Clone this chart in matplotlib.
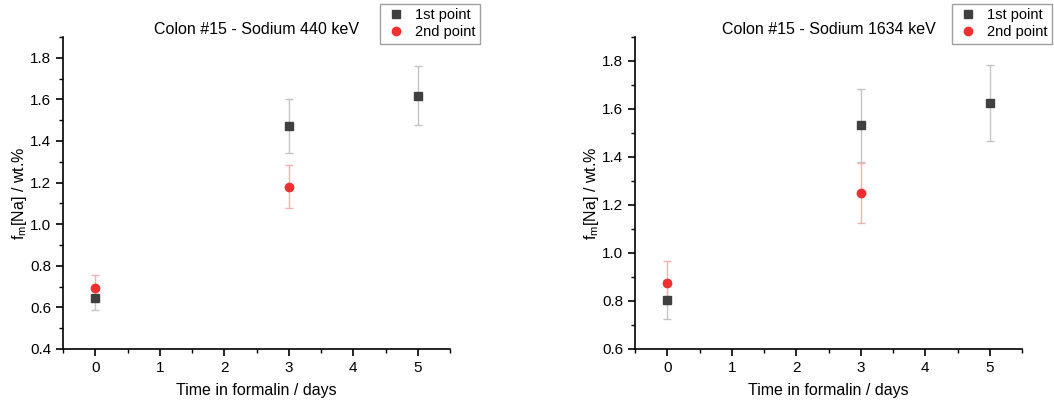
import matplotlib
matplotlib.use("Agg")
import matplotlib.pyplot as plt
from matplotlib.ticker import MultipleLocator

plt.rcParams['font.family'] = ['Liberation Sans', 'DejaVu Sans']
plt.rcParams['mathtext.default'] = 'regular'

days = [0, 3, 5]
days2 = [0, 3]

# 440 keV
first_440 = [0.644, 1.470, 1.617]
first_440_err = [0.056, 0.130, 0.142]
second_440 = [0.695, 1.181]
second_440_err = [0.059, 0.105]

# 1634 keV
first_1634 = [0.806, 1.532, 1.625]
first_1634_err = [0.082, 0.152, 0.157]
second_1634 = [0.876, 1.250]
second_1634_err = [0.089, 0.125]

titles = ["Colon #15 - Sodium 440 keV", "Colon #15 - Sodium 1634 keV"]
ylims = [(0.4, 1.9), (0.6, 1.9)]
lefts = [63 / 1054, 635 / 1054]
legend_right = [480 / 1054, 1052 / 1054]

fig = plt.figure(figsize=(10.54, 4.01), dpi=100)

panels = [
    (first_440, first_440_err, second_440, second_440_err),
    (first_1634, first_1634_err, second_1634, second_1634_err),
]

for i, (y1, e1, y2, e2) in enumerate(panels):
    ax = fig.add_axes([lefts[i], 52 / 401, 387 / 1054, 312 / 401])
    ax.errorbar(days, y1, yerr=e1, fmt='none', ecolor='#c4c4c4', elinewidth=1,
                capsize=3, capthick=1)
    ax.errorbar(days2, y2, yerr=e2, fmt='none', ecolor='#f6b0b0', elinewidth=1,
                capsize=3, capthick=1)
    ax.plot(days, y1, 's', color='#404040', markersize=5.5, label='1st point')
    ax.plot(days2, y2, 'o', color='#f03030', markersize=6, label='2nd point')

    ax.set_xlim(-0.5, 5.5)
    ax.set_ylim(*ylims[i])
    ax.xaxis.set_major_locator(MultipleLocator(1))
    ax.xaxis.set_minor_locator(MultipleLocator(0.5))
    ax.yaxis.set_major_locator(MultipleLocator(0.2))
    ax.yaxis.set_minor_locator(MultipleLocator(0.1))
    ax.yaxis.set_major_formatter(plt.FormatStrFormatter('%.1f'))
    ax.spines['top'].set_visible(False)
    ax.spines['right'].set_visible(False)
    for s in ('left', 'bottom'):
        ax.spines[s].set_linewidth(1.2)
    ax.tick_params(which='major', direction='out', length=5, width=1.2, labelsize=11)
    ax.tick_params(which='minor', direction='out', length=3, width=1.0)

    ax.set_title(titles[i], fontsize=11.5, pad=2.5)
    ax.set_xlabel("Time in formalin / days", fontsize=11.5, labelpad=6)
    ax.set_ylabel(r"f$_{m}$[Na] / wt.%", fontsize=11.5, labelpad=0.5)

    leg = ax.legend(loc='upper right', bbox_to_anchor=(legend_right[i], 1 - 4 / 401),
                    bbox_transform=fig.transFigure, borderaxespad=0, fancybox=False,
                    edgecolor='#a0a0a0', fontsize=10.5, handletextpad=0.5,
                    borderpad=0.3, labelspacing=0.2, framealpha=1, handlelength=1.6)
    leg.get_frame().set_linewidth(1)

fig.savefig("out.png", dpi=100)
